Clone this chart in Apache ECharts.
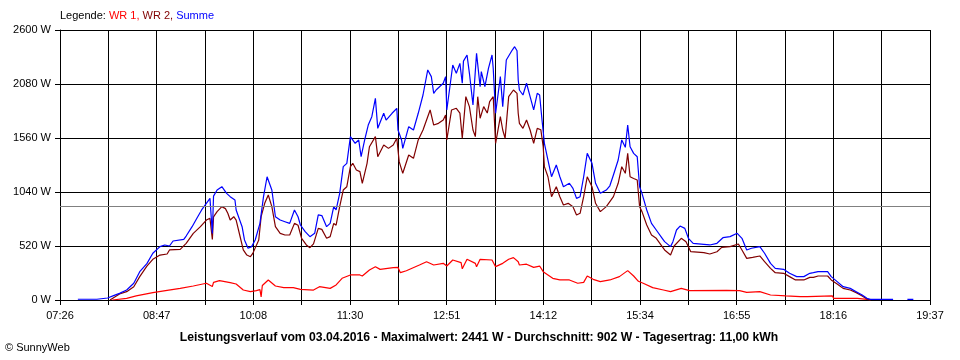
<!DOCTYPE html>
<html>
<head>
<meta charset="utf-8">
<script src="https://cdn.jsdelivr.net/npm/echarts@6/dist/echarts.min.js"></script>
<style>
html,body{margin:0;padding:0;background:#fff;}
#chart{width:960px;height:360px;}
</style>
</head>
<body>
<div id="chart"></div>
<script>
// ---- data ----
const tickLabels = ["07:26","08:47","10:08","11:30","12:51","14:12","15:34","16:55","18:16","19:37"];
const yMax = 2600;
const yStep = 520;
const averageW = 902;
const titleText = "Leistungsverlauf vom 03.04.2016 - Maximalwert: 2441 W - Durchschnitt: 902 W - Tagesertrag: 11,00 kWh";

const wr1Times = ["08:10","08:22","08:30","08:44","08:56","09:07","09:18","09:29","09:34","09:35","09:40","09:49","09:54","10:00","10:06","10:11","10:14","10:15","10:16","10:21","10:27","10:34","10:42","10:48","10:59","11:04","11:13","11:18","11:23","11:30","11:35","11:38","11:40","11:46","11:51","11:55","12:06","12:10","12:12","12:17","12:28","12:34","12:40","12:48","12:51","12:56","13:03","13:04","13:08","13:15","13:16","13:19","13:29","13:32","13:38","13:43","13:47","13:51","13:52","13:58","14:04","14:09","14:12","14:16","14:20","14:26","14:34","14:41","14:46","14:49","14:54","15:00","15:08","15:16","15:23","15:28","15:32","15:36","15:44","15:53","15:59","16:08","16:15","16:46","16:57","17:03","17:14","17:23","17:36","17:48","17:54","17:55","18:15","18:16","18:36","18:37","18:44","18:47"];
const wr1Values = [0,16,39,71,93,112,135,161,130,170,186,167,154,96,80,90,100,30,140,193,135,119,119,103,96,128,112,145,209,241,241,241,231,289,321,295,311,314,263,282,337,369,337,353,327,385,360,300,392,353,320,392,385,321,353,392,408,369,337,345,314,327,273,241,209,193,193,161,170,231,199,177,193,225,283,231,180,161,119,96,80,112,90,93,90,74,80,48,39,32,32,39,39,16,16,6,6,0];

const wr2Times = ["08:08","08:16","08:22","08:28","08:33","08:39","08:44","08:50","08:56","08:58","09:07","09:12","09:18","09:24","09:29","09:32","09:34","09:35","09:38","09:42","09:45","09:47","09:49","09:52","09:54","09:57","10:00","10:03","10:06","10:08","10:13","10:15","10:18","10:21","10:24","10:27","10:31","10:35","10:39","10:43","10:46","10:49","10:53","10:56","10:59","11:03","11:06","11:10","11:13","11:16","11:18","11:21","11:24","11:27","11:30","11:32","11:35","11:38","11:40","11:44","11:46","11:51","11:53","11:58","12:02","12:06","12:09","12:11","12:14","12:19","12:23","12:27","12:31","12:37","12:40","12:44","12:48","12:50","12:51","12:55","12:59","13:02","13:04","13:07","13:10","13:13","13:15","13:17","13:19","13:22","13:25","13:27","13:30","13:32","13:36","13:38","13:40","13:43","13:47","13:50","13:51","13:52","13:55","13:58","14:01","14:04","14:07","14:10","14:12","14:13","14:16","14:19","14:23","14:26","14:29","14:33","14:37","14:40","14:43","14:46","14:49","14:53","14:56","15:00","15:05","15:11","15:15","15:18","15:21","15:23","15:25","15:28","15:31","15:33","15:35","15:39","15:43","15:47","15:52","15:54","15:59","16:02","16:08","16:12","16:16","16:27","16:32","16:38","16:42","16:49","16:56","16:59","17:03","17:08","17:14","17:18","17:23","17:27","17:34","17:39","17:44","17:51","17:56","17:59","18:03","18:11","18:14","18:19","18:24","18:30","18:35","18:40","18:44","18:47"];
const wr2Values = [0,58,80,128,225,327,392,433,443,482,488,546,642,706,770,787,584,800,851,899,880,835,770,802,770,626,482,433,417,449,578,802,931,1011,899,706,642,626,626,738,720,594,530,504,540,690,680,594,610,738,720,899,1059,1091,1284,1316,1252,1236,1124,1316,1476,1573,1380,1493,1460,1493,1557,1332,1220,1396,1364,1541,1637,1830,1685,1701,1733,1782,1541,1830,1846,1800,1557,1958,1862,1637,1573,1958,1750,1862,1800,1910,1958,1509,1766,1637,1557,1958,2022,1990,1798,1701,1653,1733,1637,1509,1653,1640,1476,1284,1187,995,1091,995,915,931,899,819,835,995,1187,1091,931,851,899,995,1124,1284,1220,1412,1187,1170,1155,899,851,722,626,594,514,482,433,520,594,560,465,456,443,465,507,514,539,482,401,411,424,369,305,263,257,225,193,193,218,218,231,231,193,154,112,96,71,39,10,0];

const sumTimes = ["07:41","07:57","07:58","08:06","08:07","08:11","08:16","08:22","08:28","08:33","08:39","08:44","08:50","08:54","08:58","09:01","09:10","09:12","09:17","09:21","09:25","09:29","09:32","09:34","09:35","09:38","09:42","09:46","09:49","09:53","09:54","09:59","10:01","10:04","10:07","10:10","10:14","10:17","10:20","10:21","10:24","10:27","10:31","10:35","10:39","10:43","10:46","10:48","10:52","10:56","11:00","11:03","11:06","11:10","11:13","11:16","11:18","11:21","11:24","11:27","11:30","11:31","11:34","11:37","11:39","11:42","11:45","11:48","11:51","11:53","11:58","12:00","12:05","12:09","12:10","12:13","12:14","12:19","12:23","12:27","12:31","12:35","12:38","12:40","12:42","12:48","12:50","12:51","12:54","12:56","12:59","13:02","13:04","13:05","13:08","13:10","13:13","13:16","13:19","13:20","13:23","13:26","13:29","13:30","13:32","13:36","13:38","13:41","13:46","13:48","13:50","13:51","13:52","13:55","13:58","14:01","14:04","14:07","14:09","14:11","14:13","14:16","14:19","14:23","14:26","14:29","14:34","14:37","14:40","14:43","14:46","14:49","14:53","14:56","15:00","15:05","15:08","15:11","15:15","15:18","15:21","15:23","15:25","15:28","15:31","15:33","15:35","15:39","15:43","15:47","15:52","15:54","15:59","16:01","16:04","16:07","16:11","16:14","16:18","16:27","16:32","16:38","16:43","16:49","16:55","16:59","17:03","17:07","17:14","17:18","17:23","17:27","17:34","17:39","17:45","17:51","17:56","17:59","18:03","18:11","18:14","18:19","18:24","18:30","18:35","18:40","18:44","18:47","19:06","19:07","19:18","19:23"];
const sumValues = [7,7,19,19,0,42,64,96,161,273,350,450,514,530,520,568,584,616,706,787,867,931,979,640,1000,1059,1091,1027,995,963,867,706,578,498,514,578,738,995,1187,1204,1059,802,770,754,738,867,802,722,658,610,642,819,813,706,738,899,867,1027,1284,1316,1573,1589,1509,1541,1380,1541,1685,1765,1942,1653,1798,1733,1798,1846,1637,1541,1460,1669,1637,1798,1974,2215,2151,1990,2022,2087,2151,1830,2087,2263,2183,2279,2087,2300,2359,2183,1878,2375,2054,2200,2054,2231,2359,2231,1798,2151,1862,2311,2407,2439,2400,2120,2022,1974,2087,1958,1830,1990,1974,1733,1509,1348,1187,1300,1187,1091,1124,1075,979,995,1187,1412,1316,1124,1027,1059,1100,1204,1348,1541,1470,1685,1476,1412,1380,1091,1027,867,738,674,594,562,514,562,674,712,690,594,546,536,530,546,600,610,642,594,482,498,514,450,353,305,295,257,225,225,257,263,273,273,225,177,128,112,80,48,16,6,6,null,6,6];

// ---- helpers ----
function toMin(s){ const p = s.split(":"); return (+p[0])*60 + (+p[1]); }
const startMin = toMin(tickLabels[0]);
const spanMin = toMin(tickLabels[tickLabels.length-1]) - startMin;
const xInterval = spanMin / ((tickLabels.length-1)*2);
function pairs(times, values){ return times.map((t,i)=>[toMin(t)-startMin, values[i]]); }

const FONT = '"Liberation Sans", Arial, sans-serif';
const chart = echarts.init(document.getElementById('chart'), null, {renderer:'canvas'});
chart.setOption({
  animation:false,
  backgroundColor:'#ffffff',
  grid:{left:60, right:30, top:30, bottom:60, containLabel:false},
  xAxis:{
    type:'value', min:0, max:spanMin, interval:xInterval,
    axisLine:{show:true, lineStyle:{color:'#000', width:1}},
    axisTick:{show:true, length:5, lineStyle:{color:'#000'}},
    splitLine:{show:true, lineStyle:{color:'#000', width:1}},
    axisLabel:{
      margin:10, color:'#000', fontFamily:FONT, fontSize:11,
      showMinLabel:true, showMaxLabel:true,
      formatter:function(v){ const i = Math.round(v/xInterval); return (i%2===0) ? (tickLabels[i/2]||'') : ''; }
    }
  },
  yAxis:{
    type:'value', min:0, max:yMax, interval:yStep,
    axisLine:{show:true, lineStyle:{color:'#000', width:1}},
    axisTick:{show:true, length:5, lineStyle:{color:'#000'}},
    splitLine:{show:true, lineStyle:{color:'#000', width:1}},
    axisLabel:{margin:9, color:'#000', fontFamily:FONT, fontSize:11, formatter:function(v){ return String(v) + ' W'; }}
  },
  series:[
    {name:'WR 1', type:'line', data:pairs(wr1Times, wr1Values), showSymbol:false, lineStyle:{color:'#ff0000', width:1.2}, itemStyle:{color:'#ff0000'},
     markLine:{silent:true, symbol:['none','none'], label:{show:false}, lineStyle:{color:'#808080', type:'solid', width:1}, data:[{yAxis:averageW}]}},
    {name:'WR 2', type:'line', data:pairs(wr2Times, wr2Values), showSymbol:false, lineStyle:{color:'#800000', width:1.2}, itemStyle:{color:'#800000'}},
    {name:'Summe', type:'line', data:pairs(sumTimes, sumValues), showSymbol:false, connectNulls:false, lineStyle:{color:'#0000ff', width:1.2}, itemStyle:{color:'#0000ff'}}
  ],
  graphic:[
    {type:'text', left:60, top:10, style:{
      text:'{k|Legende: }{a|WR 1, }{b|WR 2, }{c|Summe}',
      font:'11px ' + FONT,
      rich:{k:{fill:'#000', fontFamily:FONT, fontSize:11}, a:{fill:'#ff0000', fontFamily:FONT, fontSize:11}, b:{fill:'#800000', fontFamily:FONT, fontSize:11}, c:{fill:'#0000ff', fontFamily:FONT, fontSize:11}}
    }},
    {type:'text', x:479, y:338, style:{text:titleText, fill:'#000', font:'bold 12.2px ' + FONT, textAlign:'center', textVerticalAlign:'middle'}},
    {type:'text', x:5, y:348, style:{text:'© SunnyWeb', fill:'#000', font:'11px ' + FONT, textAlign:'left', textVerticalAlign:'middle'}}
  ]
});
</script>
</body>
</html>
